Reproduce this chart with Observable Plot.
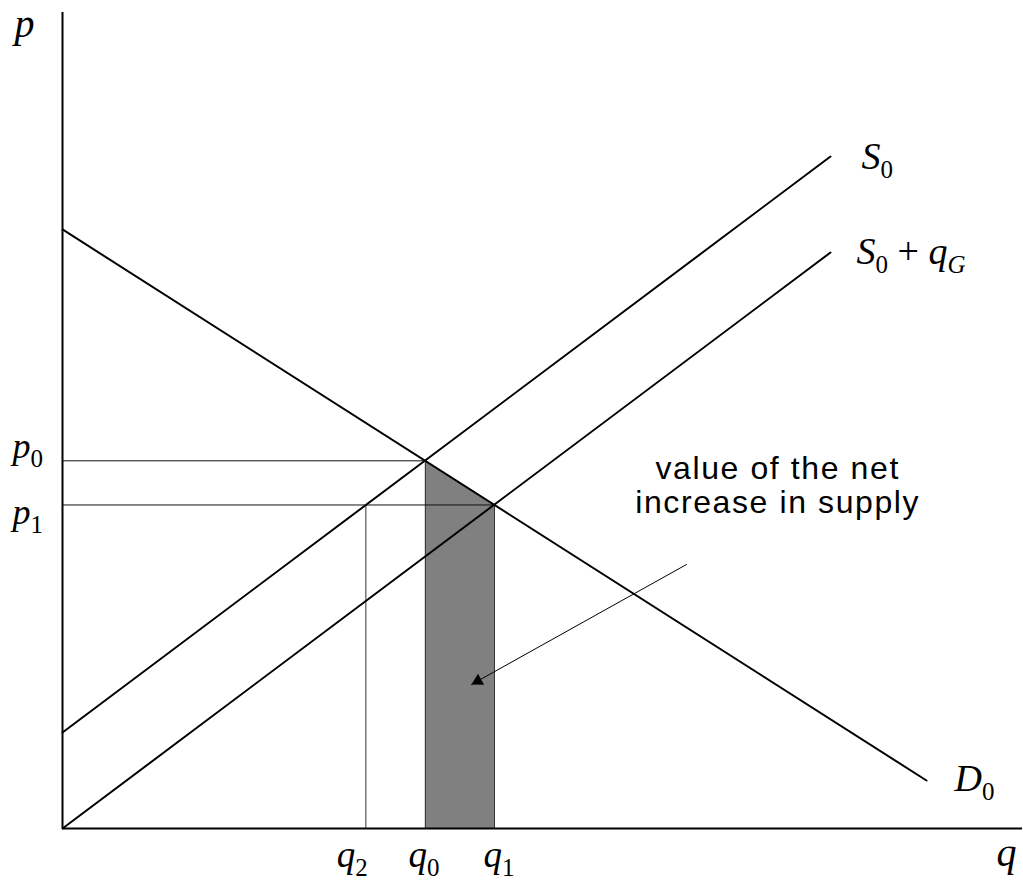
<!DOCTYPE html>
<html><head><meta charset="utf-8">
<script src="https://cdn.jsdelivr.net/npm/d3@7"></script>
<script src="https://cdn.jsdelivr.net/npm/@observablehq/plot@0.6"></script>
<style>body{margin:0;background:#fff}</style>
</head><body><div id="chart"></div>
<script>
// Curves (q, p)
const demand  = [{q: 0, p: 62.4}, {q: 90, p: 5}];
const supply0 = [{q: 0, p: 10},   {q: 80, p: 70}];
const supply1 = [{q: 0, p: 0},    {q: 80, p: 60}];
// Equilibrium levels
const p0 = 38.3, p1 = 33.7;
const q0 = 37.8, q1 = 45.0, q2 = 31.6;
const shade = [{q: q0, p: p0}, {q: q1, p: p1}];
const arrowPath = [{q: 65.0, p: 27.5}, {q: 42.6, p: 15.0}];
const note = [{q: 74.5, p: 32.9, text: "value of the net\nincrease in supply"}];
// Label texts
const axisTitles = ["p", "q"];
const priceLabels = ["p_0", "p_1"];
const quantityLabels = ["q_2", "q_0", "q_1"];
const curveLabels = ["S_0", "S_0 + q_G", "D_0"];

const serif = "'Liberation Serif', 'Times New Roman', serif";
function lbl(datum, text, dx, dy, size) {
  return Plot.text([datum], {x: "q", y: "p", text: () => text, dx, dy,
    textAnchor: "start", lineAnchor: "bottom", fontFamily: serif,
    fontStyle: "italic", fontSize: size, fill: "black"});
}

const svg = Plot.plot({
  width: 1023, height: 884,
  marginLeft: 62, marginRight: 1, marginTop: 12, marginBottom: 56,
  x: {domain: [0, 100], axis: null},
  y: {domain: [0, 85], axis: null},
  marks: [
    Plot.areaY(shade, {x: "q", y: "p", fill: "#808080"}),
    Plot.ruleX(shade, {x: "q", y1: 0, y2: "p", stroke: "#333", strokeWidth: 1}),
    Plot.ruleX([{q: q2, p: p1}], {x: "q", y1: 0, y2: "p", stroke: "#333", strokeWidth: 1}),
    Plot.ruleY(shade, {y: "p", x1: 0, x2: "q", stroke: "#111", strokeWidth: 1}),
    Plot.line(demand, {x: "q", y: "p", stroke: "black", strokeWidth: 2}),
    Plot.line(supply0, {x: "q", y: "p", stroke: "black", strokeWidth: 2}),
    Plot.line(supply1, {x: "q", y: "p", stroke: "black", strokeWidth: 2}),
    Plot.ruleX([0], {y1: 0, y2: 85, stroke: "black", strokeWidth: 2}),
    Plot.ruleY([0], {x1: 0, x2: 100, stroke: "black", strokeWidth: 2}),
    Plot.line(arrowPath, {x: "q", y: "p", stroke: "black", strokeWidth: 1}),
    Plot.dot([arrowPath[1]], {x: "q", y: "p", symbol: "triangle", r: 4.7, fill: "black",
      stroke: null, rotate: 240.8, dx: 6.4, dy: -3.55}),
    Plot.text(note, {x: "q", y: "p", text: "text", textAnchor: "middle", lineAnchor: "bottom",
      lineHeight: 1.06, fontSize: 32, fontFamily: "'Liberation Sans', Arial, sans-serif", fill: "black"}),
    lbl({q: 0, p: 85}, axisTitles[0], -48, 24, 40),
    lbl({q: 100, p: 0}, axisTitles[1], -26, 37, 40),
    lbl({q: 0, p: p0}, priceLabels[0], -50, -3, 36),
    lbl({q: 0, p: p1}, priceLabels[1], -50, 19, 36),
    lbl({q: q2, p: 0}, quantityLabels[0], -29, 38, 37),
    lbl({q: q0, p: 0}, quantityLabels[1], -17, 38, 37),
    lbl({q: q1, p: 0}, quantityLabels[2], -11, 38, 37),
    lbl(supply0[1], curveLabels[0], 31, 12, 38),
    lbl(supply1[1], curveLabels[1], 26, 11, 38),
    lbl(demand[1], curveLabels[2], 28, 10, 38)
  ]
});

function subscripts(root) {
  root.querySelectorAll("text").forEach(el => {
    const s = el.textContent;
    if (s.startsWith("value of")) { el.style.letterSpacing = "1.6px"; return; }
    if (!s.includes("_")) return;
    el.textContent = "";
    el.style.whiteSpace = "pre";
    let i = 0, shifted = false;
    const add = (t, o) => {
      const ts = document.createElementNS("http://www.w3.org/2000/svg", "tspan");
      ts.textContent = t;
      ts.setAttribute("font-style", o.style);
      if (o.size) ts.setAttribute("font-size", o.size);
      if (o.dy) ts.setAttribute("dy", o.dy);
      el.appendChild(ts);
    };
    while (i < s.length) {
      if (s[i + 1] === "_") {
        add(s[i], {style: "italic", dy: shifted ? -9 : 0});
        const c = s[i + 2];
        add(c, {style: /\d/.test(c) ? "normal" : "italic", size: 25, dy: 9});
        shifted = true; i += 3;
      } else {
        let j = i; while (j < s.length && s[j + 1] !== "_") j++;
        add(s.slice(i, j), {style: "normal", dy: shifted ? -9 : 0});
        shifted = false; i = j;
      }
    }
  });
}
subscripts(svg);
document.getElementById("chart").appendChild(svg);
</script>
</body></html>
